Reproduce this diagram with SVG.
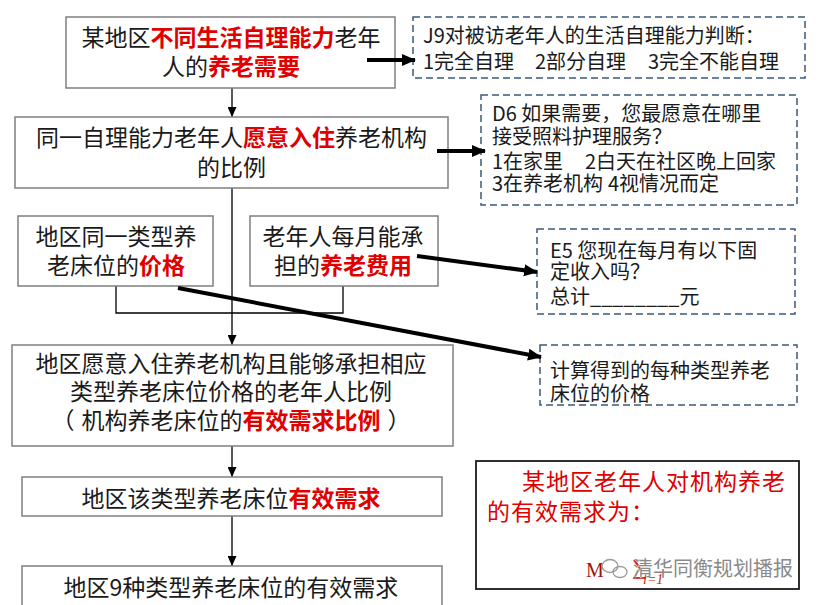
<svg xmlns="http://www.w3.org/2000/svg" width="818" height="605" viewBox="0 0 818 605">
<defs>
<style>
.box{fill:#fff;stroke:#7f7f7f;stroke-width:1.5}
.dbox{fill:#fff;stroke:#3d5a7a;stroke-width:1.5;stroke-dasharray:7 4}
.sbox{fill:#fff;stroke:#1a1a1a;stroke-width:1.8}
text{font-family:"Noto Sans CJK SC","Microsoft YaHei",sans-serif;fill:#1a1a1a}
.m{font-size:23px;text-anchor:middle}
.q{font-size:20px}
.r{fill:#e00000;font-weight:bold}
.rr{fill:#e00000;font-size:23px}
.ln{stroke:#000;stroke-width:1.3;fill:none}
.thick{stroke:#000;stroke-width:4;fill:none}
.wm{font-size:20px;fill:#8a8a8a;stroke:#fff;stroke-width:0.6;paint-order:stroke}
</style>
<marker id="a" markerUnits="userSpaceOnUse" markerWidth="10" markerHeight="9" refX="10" refY="4.5" orient="auto"><path d="M0,0 L10,4.5 L0,9 z" fill="#000"/></marker>
<marker id="b" markerUnits="userSpaceOnUse" markerWidth="14" markerHeight="12" refX="13" refY="6" orient="auto"><path d="M0,0 L14,6 L0,12 z" fill="#000"/></marker>
</defs>

<g id="connectors">
<line class="ln" x1="232" y1="88" x2="232" y2="117" marker-end="url(#a)"/>
<line class="ln" x1="232" y1="188" x2="232" y2="345" marker-end="url(#a)"/>
<line class="ln" x1="232" y1="446" x2="232" y2="477" marker-end="url(#a)"/>
<line class="ln" x1="232" y1="516" x2="232" y2="566" marker-end="url(#a)"/>
<polyline class="ln" points="116,286 116,313 343,313 343,285"/>
</g>

<g id="n1">
<rect class="box" x="66" y="17" width="329" height="71"/>
<text class="m" x="231" y="46">某地区<tspan class="r">不同生活自理能力</tspan>老年</text>
<text class="m" x="231" y="75">人的<tspan class="r">养老需要</tspan></text>
</g>

<g id="n2">
<rect class="box" x="15" y="117" width="433" height="71"/>
<text class="m" x="231.5" y="146">同一自理能力老年人<tspan class="r">愿意入住</tspan>养老机构</text>
<text class="m" x="231.5" y="176">的比例</text>
</g>

<g id="n3">
<rect class="box" x="18" y="216" width="195" height="70"/>
<text class="m" x="116" y="244.5">地区同一类型养</text>
<text class="m" x="116" y="273.5">老床位的<tspan class="r">价格</tspan></text>
</g>

<g id="n4">
<rect class="box" x="250" y="216" width="188" height="70"/>
<text class="m" x="343" y="244.5">老年人每月能承</text>
<text class="m" x="343" y="273.5">担的<tspan class="r">养老费用</tspan></text>
</g>

<g id="n5">
<rect class="box" x="12" y="345" width="441" height="101"/>
<text class="m" x="231" y="372">地区愿意入住养老机构且能够承担相应</text>
<text class="m" x="231" y="400">类型养老床位价格的老年人比例</text>
<text class="m" x="231" y="429">（<tspan dx="7">机构养老床位的</tspan><tspan class="r">有效需求比例</tspan><tspan dx="7">）</tspan></text>
</g>

<g id="n6">
<rect class="box" x="22" y="477" width="420" height="39"/>
<text class="m" x="231" y="506.5">地区该类型养老床位<tspan class="r">有效需求</tspan></text>
</g>

<g id="n7">
<rect class="box" x="22" y="566" width="420" height="50"/>
<text class="m" x="231" y="596">地区9种类型养老床位的有效需求</text>
</g>

<g id="q1">
<rect class="dbox" x="413" y="17" width="392" height="61"/>
<text class="q" x="423" y="42.5">J9对被访老年人的生活自理能力判断：</text>
<text class="q" y="69"><tspan x="423">1完全自理</tspan><tspan x="535">2部分自理</tspan><tspan x="648">3完全不能自理</tspan></text>
</g>

<g id="q2">
<rect class="dbox" x="481" y="95" width="316" height="110"/>
<text class="q" x="492" y="121">D6 如果需要，您最愿意在哪里</text>
<text class="q" x="492" y="144">接受照料护理服务？</text>
<text class="q" y="168.5"><tspan x="492">1在家里</tspan><tspan x="585">2白天在社区晚上回家</tspan></text>
<text class="q" y="191"><tspan x="492">3在养老机构</tspan><tspan x="608">4视情况而定</tspan></text>
</g>

<g id="q3">
<rect class="dbox" x="537" y="229" width="258" height="85"/>
<text class="q" x="550" y="257.5">E5 您现在每月有以下固</text>
<text class="q" x="550" y="279">定收入吗？</text>
<text class="q" x="550" y="303.5">总计________元</text>
</g>

<g id="q4">
<rect class="dbox" x="540" y="345" width="257" height="60"/>
<text class="q" x="550" y="378">计算得到的每种类型养老</text>
<text class="q" x="550" y="401">床位的价格</text>
</g>

<g id="result">
<rect class="sbox" x="476" y="461" width="323" height="128"/>
<text class="rr" x="522" y="490" letter-spacing="1">某地区老年人对机构养老</text>
<text class="rr" x="487" y="520" letter-spacing="1">的有效需求为：</text>
<text x="586" y="577" style="font-family:'Liberation Serif',serif;font-size:20px;fill:#a01010">M</text>
<text x="632" y="574" style="font-family:'Liberation Serif',serif;font-size:22px;fill:#d02020">∑</text>
<text x="643" y="584" style="font-family:'Liberation Serif',serif;font-size:14px;fill:#d02020;font-style:italic">i=1</text>
<g fill="none" stroke="#9a9a9a" stroke-width="1.3">
<ellipse cx="610" cy="566" rx="8" ry="6.5"/>
<ellipse cx="620" cy="572" rx="7" ry="5.5"/>
</g>
<text class="wm" x="633" y="576">清华同衡规划播报</text>
</g>

<g id="arrows">
<line class="thick" x1="367" y1="60" x2="415" y2="60" marker-end="url(#b)"/>
<line class="thick" x1="437" y1="151" x2="485" y2="151" marker-end="url(#b)"/>
<line class="thick" x1="417" y1="256" x2="537" y2="272" marker-end="url(#b)"/>
<line class="thick" x1="178" y1="288" x2="541" y2="357" marker-end="url(#b)"/>
</g>
</svg>
